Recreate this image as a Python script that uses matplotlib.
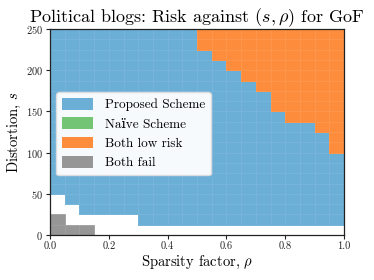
import numpy as np
import matplotlib
matplotlib.use("Agg")
import matplotlib.pyplot as plt
from matplotlib.colors import ListedColormap
from matplotlib.patches import Patch

# --- data -------------------------------------------------------------
rho_edges = [0.0, 0.05, 0.1, 0.15, 0.2, 0.25, 0.3, 0.35, 0.4, 0.45, 0.5,
             0.55, 0.6, 0.65, 0.7, 0.75, 0.8, 0.85, 0.9, 0.95, 1.0]
s_edges = [0, 12.5, 25, 37.5, 50, 62.5, 75, 87.5, 100, 112.5, 125,
           137.5, 150, 162.5, 175, 187.5, 200, 212.5, 225, 237.5, 250]
# rows listed from top (s=237.5..250) to bottom (s=0..12.5)
# P = Proposed Scheme, N = Naive Scheme, L = Both low risk, F = Both fail, . = none
grid_rows = [
    "PPPPPPPPPPLLLLLLLLLL",
    "PPPPPPPPPPLLLLLLLLLL",
    "PPPPPPPPPPPLLLLLLLLL",
    "PPPPPPPPPPPPLLLLLLLL",
    "PPPPPPPPPPPPPLLLLLLL",
    "PPPPPPPPPPPPPPLLLLLL",
    "PPPPPPPPPPPPPPPLLLLL",
    "PPPPPPPPPPPPPPPLLLLL",
    "PPPPPPPPPPPPPPPPLLLL",
    "PPPPPPPPPPPPPPPPPPLL",
    "PPPPPPPPPPPPPPPPPPPL",
    "PPPPPPPPPPPPPPPPPPPL",
    "PPPPPPPPPPPPPPPPPPPP",
    "PPPPPPPPPPPPPPPPPPPP",
    "PPPPPPPPPPPPPPPPPPPP",
    "PPPPPPPPPPPPPPPPPPPP",
    ".PPPPPPPPPPPPPPPPPPP",
    "..PPPPPPPPPPPPPPPPPP",
    "F.....PPPPPPPPPPPPPP",
    "FFF.................",
]
categories = ["Proposed Scheme", "Naïve Scheme", "Both low risk", "Both fail"]
codes = ["P", "N", "L", "F"]
colors = ["#6baed6", "#74c476", "#fd8d3c", "#969696"]

# --- build matrix -----------------------------------------------------
Z = np.full((len(s_edges) - 1, len(rho_edges) - 1), np.nan)
for i, row in enumerate(reversed(grid_rows)):
    for j, ch in enumerate(row):
        if ch in codes:
            Z[i, j] = codes.index(ch)
Z = np.ma.masked_invalid(Z)

plt.rcParams['font.family'] = ['cmr10', 'DejaVu Serif']
plt.rcParams['mathtext.fontset'] = 'cm'
plt.rcParams['axes.formatter.use_mathtext'] = True

fig = plt.figure(figsize=(3.74, 2.8), dpi=100)
ax = fig.add_axes([50/374, 45/280, 294/374, 206/280])
cmap = ListedColormap(colors)
ax.pcolormesh(rho_edges, s_edges, Z, cmap=cmap, vmin=-0.5, vmax=3.5,
              edgecolor=(1, 1, 1, 0.08), linewidth=0.4)
ax.set_xlim(0, 1)
ax.set_ylim(0, 250)
ax.set_xticks([0.0, 0.2, 0.4, 0.6, 0.8, 1.0])
ax.set_xticklabels(["0.0", "0.2", "0.4", "0.6", "0.8", "1.0"])
ax.set_yticks([0, 50, 100, 150, 200, 250])
ax.tick_params(direction='out', length=3, width=0.8, labelsize=7.5,
               colors='#222222', pad=2)
for sp in ax.spines.values():
    sp.set_color('#222222')
    sp.set_linewidth(0.9)

ax.set_title(r'Political blogs: Risk against $(s,\rho)$ for GoF',
             fontsize=13, pad=3)
ax.set_xlabel(r'Sparsity factor, $\rho$', fontsize=10.5, labelpad=2)
ax.set_ylabel(r'Distortion, $s$', fontsize=10.5, labelpad=2)

handles = [Patch(facecolor=c, edgecolor='none', label=l)
           for c, l in zip(colors, categories)]
leg = ax.legend(handles=handles, loc='lower left',
                bbox_to_anchor=(0.022, 0.29), fontsize=9.5,
                handlelength=2.3, handleheight=1.0, handletextpad=0.9,
                labelspacing=0.45, borderpad=0.45, borderaxespad=0.0,
                framealpha=0.95, edgecolor='#dddddd', fancybox=True)

fig.savefig("out.png", dpi=100)
